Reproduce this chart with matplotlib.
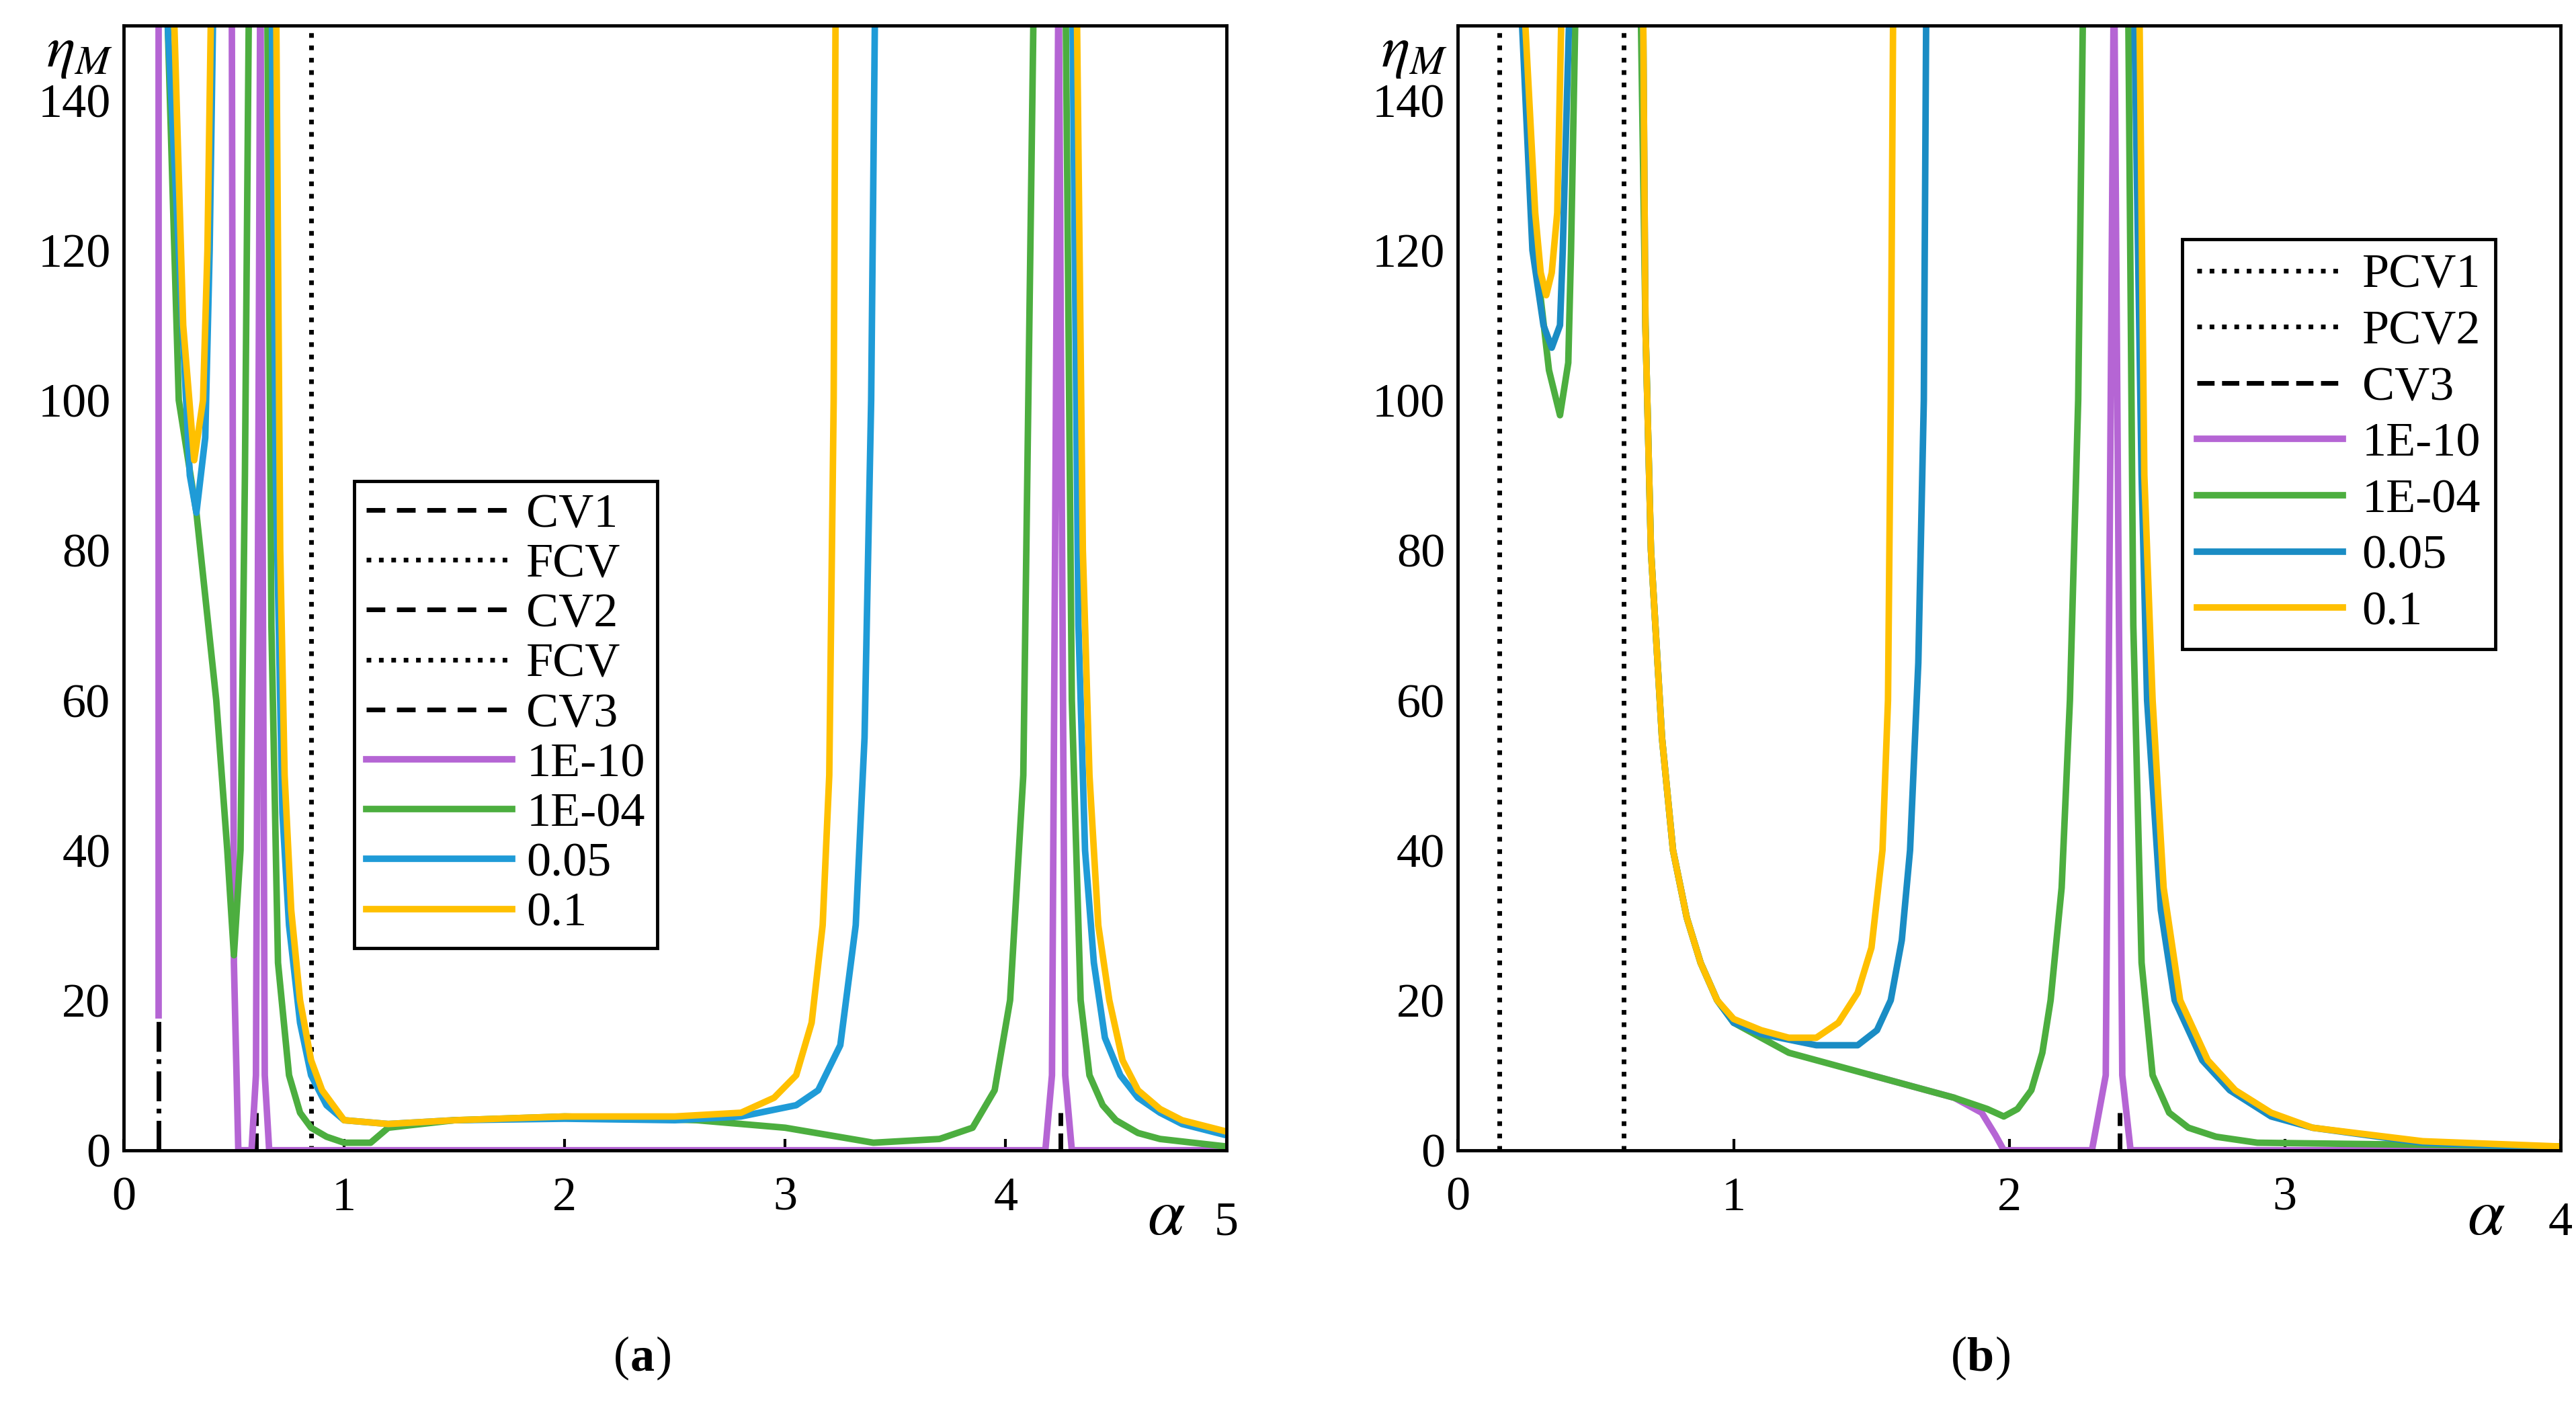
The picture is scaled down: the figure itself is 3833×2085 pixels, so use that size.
import matplotlib.pyplot as plt
from matplotlib.lines import Line2D

plt.rcParams["font.family"] = "Liberation Serif"
plt.rcParams["mathtext.fontset"] = "stix"

PURPLE = "#b565d4"
GREEN = "#4cae3f"
BLUE = "#1f9bd7"
BLUE_B = "#1a8cc4"
YELLOW = "#ffc000"

# ---- panel (a) data: each series is a list of segments (x list, y list); y > 150 is clipped
a_purple = [
    ([0.16, 0.16], [18, 160]),
    ([0.49, 0.50, 0.52, 0.58, 0.60, 0.62, 0.64, 0.66, 4.18, 4.21, 4.24, 4.27, 4.30, 5.0],
     [160, 25, 0, 0, 10, 160, 10, 0, 0, 10, 160, 10, 0, 0]),
]
a_green = [
    ([0.20, 0.25, 0.33, 0.42, 0.47, 0.50, 0.53, 0.55, 0.57],
     [150, 100, 85, 60, 40, 26, 40, 90, 160]),
    ([0.65, 0.67, 0.70, 0.75, 0.80, 0.85, 0.92, 1.00, 1.12, 1.20, 1.50, 2.00, 2.60, 3.00, 3.20, 3.40,
      3.70, 3.85, 3.95, 4.02, 4.08, 4.13],
     [160, 70, 25, 10, 5, 3, 1.8, 1, 1, 3, 4, 4.5, 4, 3, 2, 1, 1.5, 3, 8, 20, 50, 160]),
    ([4.27, 4.30, 4.34, 4.38, 4.44, 4.50, 4.60, 4.70, 5.00], [160, 60, 20, 10, 6, 4, 2.3, 1.5, 0.5]),
]
a_blue = [
    ([0.20, 0.25, 0.30, 0.33, 0.37, 0.39, 0.41], [150, 120, 90, 85, 95, 120, 160]),
    ([0.67, 0.69, 0.72, 0.75, 0.80, 0.85, 0.92, 1.00, 1.20, 1.50, 2.00, 2.50, 2.80, 3.05, 3.15,
      3.25, 3.32, 3.36, 3.39, 3.41],
     [160, 90, 45, 30, 17, 10, 6, 4, 3.5, 4, 4.2, 4, 4.5, 6, 8, 14, 30, 55, 100, 160]),
    ([4.30, 4.33, 4.36, 4.40, 4.45, 4.52, 4.60, 4.70, 4.80, 5.00], [160, 70, 40, 25, 15, 10, 7, 5, 3.5, 2]),
]
a_yellow = [
    ([0.22, 0.27, 0.32, 0.36, 0.38, 0.40], [160, 110, 92, 100, 120, 160]),
    ([0.69, 0.71, 0.73, 0.76, 0.80, 0.85, 0.90, 1.00, 1.20, 1.50, 2.00, 2.50, 2.80, 2.95, 3.05,
      3.12, 3.17, 3.20, 3.22, 3.23],
     [160, 80, 50, 32, 20, 12, 8, 4, 3.5, 4, 4.5, 4.5, 5, 7, 10, 17, 30, 50, 100, 160]),
    ([4.32, 4.35, 4.38, 4.42, 4.47, 4.53, 4.60, 4.70, 4.80, 5.00], [160, 80, 50, 30, 20, 12, 8, 5.5, 4, 2.5]),
]
a_cv1 = ([0.16, 0.16], [0, 18])
a_fcv = ([0.85, 0.85], [0, 150])
a_cv2 = ([0.60, 0.60], [0, 5])
a_cv3 = ([4.25, 4.25], [0, 5])

# ---- panel (b) data
b_purple = [
    ([1.50, 1.80, 1.90, 1.95, 1.98, 2.30, 2.35, 2.38, 2.41, 2.44, 4.0],
     [10, 7, 5, 2, 0, 0, 10, 160, 10, 0, 0]),
]
b_green = [
    ([0.22, 0.28, 0.33, 0.37, 0.40, 0.41, 0.43], [160, 120, 104, 98, 105, 120, 160]),
    ([0.66, 0.68, 0.70, 0.74, 0.78, 0.83, 0.88, 0.94, 1.00, 1.10, 1.20, 1.50, 1.80, 1.92, 1.98, 2.03,
      2.08, 2.12, 2.15, 2.19, 2.22, 2.25, 2.27],
     [160, 110, 80, 55, 40, 31, 25, 20, 17, 15, 13, 10, 7, 5.5, 4.5, 5.5, 8, 13, 20, 35, 60, 100, 160]),
    ([2.43, 2.45, 2.48, 2.52, 2.58, 2.65, 2.75, 2.90, 4.00], [160, 70, 25, 10, 5, 3, 1.8, 1, 0.5]),
]
b_blue = [
    ([0.22, 0.27, 0.31, 0.34, 0.37, 0.38, 0.41], [160, 120, 110, 107, 110, 120, 160]),
    ([0.67, 0.68, 0.70, 0.74, 0.78, 0.83, 0.88, 0.94, 1.00, 1.10, 1.30, 1.45, 1.52, 1.57, 1.61,
      1.64, 1.67, 1.69, 1.70],
     [160, 110, 80, 55, 40, 31, 25, 20, 17, 15.5, 14, 14, 16, 20, 28, 40, 65, 100, 160]),
    ([2.45, 2.48, 2.50, 2.55, 2.60, 2.70, 2.80, 2.95, 3.10, 3.50, 4.00],
     [160, 90, 60, 32, 20, 12, 8, 4.5, 3, 1, 0.3]),
]
b_yellow = [
    ([0.23, 0.28, 0.30, 0.32, 0.34, 0.36, 0.38], [160, 125, 117, 114, 117, 125, 160]),
    ([0.67, 0.68, 0.70, 0.74, 0.78, 0.83, 0.88, 0.94, 1.00, 1.10, 1.20, 1.30, 1.38, 1.45, 1.50,
      1.54, 1.56, 1.57, 1.58],
     [160, 110, 80, 55, 40, 31, 25, 20, 17.5, 16, 15, 15, 17, 21, 27, 40, 60, 100, 160]),
    ([2.47, 2.49, 2.52, 2.56, 2.62, 2.72, 2.82, 2.95, 3.10, 3.50, 4.00],
     [160, 90, 60, 35, 20, 12, 8, 5, 3, 1.2, 0.5]),
]
b_pcv1 = ([0.15, 0.15], [0, 150])
b_pcv2 = ([0.60, 0.60], [0, 150])
b_cv3 = ([2.40, 2.40], [0, 5])

LW = 7
FS = 52


def draw(ax, segs, color):
    for xs, ys in segs:
        ax.plot(xs, ys, color=color, linewidth=LW, solid_joinstyle="round")


def style(ax, xmax):
    ax.set_xlim(0, xmax)
    ax.set_ylim(0, 150)
    ax.set_xticks(range(0, xmax + 1))
    ax.set_xticklabels([str(i) for i in range(xmax)] + [""])
    ax.set_yticks(range(0, 141, 20))
    ax.tick_params(direction="in", labelsize=FS, length=12, width=3, pad=28)
    ax.tick_params(axis="y", length=0, pad=14)
    for s in ax.spines.values():
        s.set_linewidth(3.5)
    ax.text(-0.01, 1.0, r"$\eta_M$", transform=ax.transAxes, ha="right", va="top", fontsize=64)
    ax.text(xmax - 0.27, -5, r"$\alpha$", ha="center", va="top", fontsize=72)
    ax.text(xmax, -6.8, str(xmax), ha="center", va="top", fontsize=FS)


fig = plt.figure(figsize=(38.33, 20.85), dpi=100)
ax1 = fig.add_axes([0.048, 0.179, 0.428, 0.803])
ax2 = fig.add_axes([0.566, 0.179, 0.428, 0.803])

# panel (a)
ax1.plot(*a_cv1, color="black", linewidth=5, linestyle="-.")
ax1.plot(*a_fcv, color="black", linewidth=5, linestyle=":")
ax1.plot(*a_cv2, color="black", linewidth=5, linestyle="--")
ax1.plot(*a_cv3, color="black", linewidth=5, linestyle="--")
draw(ax1, a_purple, PURPLE)
draw(ax1, a_green, GREEN)
draw(ax1, a_blue, BLUE)
draw(ax1, a_yellow, YELLOW)
style(ax1, 5)

h = lambda c, ls="-": Line2D([], [], color=c, linewidth=LW if c != "black" else 5, linestyle=ls)
leg1 = ax1.legend(
    [h("black", (0, (4, 2.5))), h("black", ":"), h("black", (0, (4, 2.5))), h("black", ":"),
     h("black", (0, (4, 2.5))), h(PURPLE), h(GREEN), h(BLUE), h(YELLOW)],
    ["CV1", "FCV", "CV2", "FCV", "CV3", "1E-10", "1E-04", "0.05", "0.1"],
    loc="upper left", bbox_to_anchor=(0.209, 0.595), fontsize=FS, fancybox=False,
    edgecolor="black", framealpha=1, handlelength=3.0, labelspacing=0.12, borderpad=0.25,
    handletextpad=0.3, borderaxespad=0,
)
leg1.get_frame().set_linewidth(3.5)

# panel (b)
ax2.plot(*b_pcv1, color="black", linewidth=5, linestyle=":")
ax2.plot(*b_pcv2, color="black", linewidth=5, linestyle=":")
ax2.plot(*b_cv3, color="black", linewidth=5, linestyle="--")
draw(ax2, b_purple, PURPLE)
draw(ax2, b_green, GREEN)
draw(ax2, b_blue, BLUE_B)
draw(ax2, b_yellow, YELLOW)
style(ax2, 4)

leg2 = ax2.legend(
    [h("black", ":"), h("black", ":"), h("black", "--"), h(PURPLE), h(GREEN), h(BLUE_B), h(YELLOW)],
    ["PCV1", "PCV2", "CV3", "1E-10", "1E-04", "0.05", "0.1"],
    loc="upper left", bbox_to_anchor=(0.657, 0.81), fontsize=FS, fancybox=False,
    edgecolor="black", framealpha=1, handlelength=3.0, labelspacing=0.25, borderpad=0.3,
    handletextpad=0.4, borderaxespad=0,
)
leg2.get_frame().set_linewidth(3.5)

fig.text(0.2445, 0.022, "(", fontsize=FS, ha="right")
fig.text(0.2445, 0.022, "a", fontsize=FS, fontweight="bold", ha="left")
fig.text(0.2545, 0.022, ")", fontsize=FS, ha="left")
fig.text(0.7635, 0.022, "(", fontsize=FS, ha="right")
fig.text(0.7635, 0.022, "b", fontsize=FS, fontweight="bold", ha="left")
fig.text(0.7745, 0.022, ")", fontsize=FS, ha="left")

fig.savefig("out.png", dpi=100)
